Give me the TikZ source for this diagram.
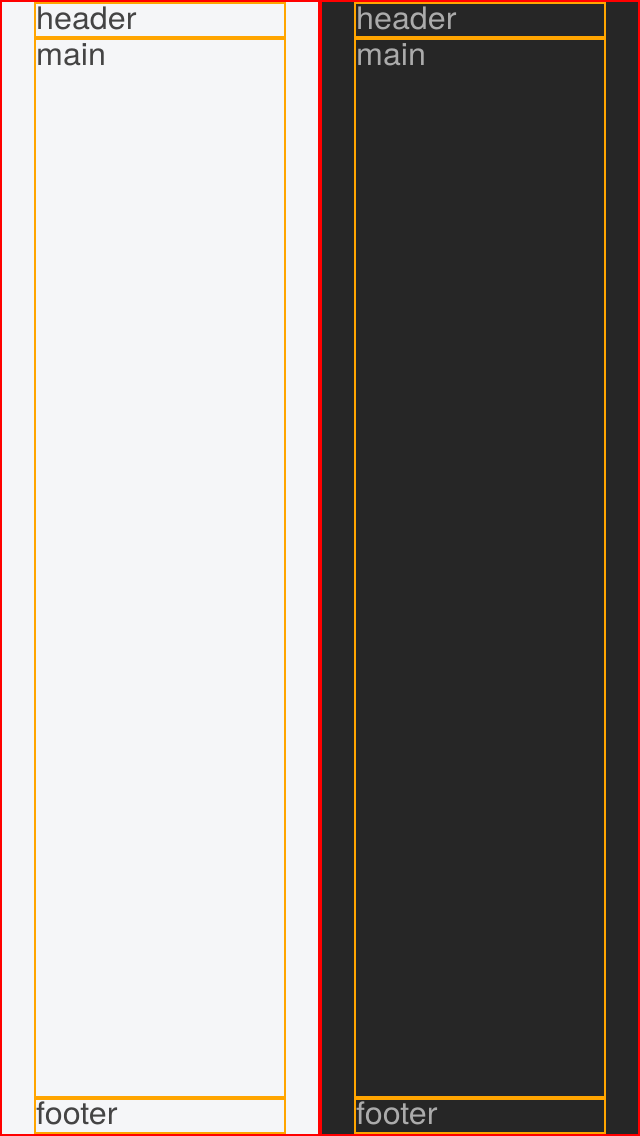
\documentclass[tikz,border=0pt]{standalone}
\usepackage{fontspec}
\setmainfont{TeX Gyre Heros}
\definecolor{lightbg}{HTML}{F5F6F8}
\definecolor{darkbg}{HTML}{262626}
\definecolor{lighttext}{HTML}{444444}
\definecolor{darktext}{HTML}{ABABAB}
\definecolor{boxorange}{HTML}{FFA500}
\definecolor{panelred}{HTML}{FF0000}
\begin{document}
\begin{tikzpicture}[x=1pt,y=-1pt,
  panelframe/.style={draw=panelred,line width=2pt},
  regionbox/.style={draw=boxorange,line width=2pt},
  regionlabel/.style={anchor=base west,inner sep=0pt,xscale=1.04,font=\fontsize{31}{36}\selectfont}]
\useasboundingbox (0,0) rectangle (640,1136);
% backgrounds
\fill[lightbg] (0,0) rectangle (320,1136);
\fill[darkbg] (320,0) rectangle (640,1136);
% left panel
\draw[regionbox] (35,3) rectangle (285,36.5);
\draw[regionbox] (35,38.5) rectangle (285,1096.5);
\draw[regionbox] (35,1098.5) rectangle (285,1133);
\node[regionlabel,text=lighttext] (lh) at (36,29.5) {header};
\node[regionlabel,text=lighttext] (lm) at (36,65.2) {main};
\node[regionlabel,text=lighttext] (lf) at (36,1124) {footer};
% right panel
\draw[regionbox] (355,3) rectangle (605,36.5);
\draw[regionbox] (355,38.5) rectangle (605,1096.5);
\draw[regionbox] (355,1098.5) rectangle (605,1133);
\node[regionlabel,text=darktext] (rh) at (356,29.5) {header};
\node[regionlabel,text=darktext] (rm) at (356,65.2) {main};
\node[regionlabel,text=darktext] (rf) at (356,1124) {footer};
% red frames
\draw[panelframe] (1,1) rectangle (319,1135);
\draw[panelframe] (321,1) rectangle (639,1135);
\end{tikzpicture}
\end{document}
